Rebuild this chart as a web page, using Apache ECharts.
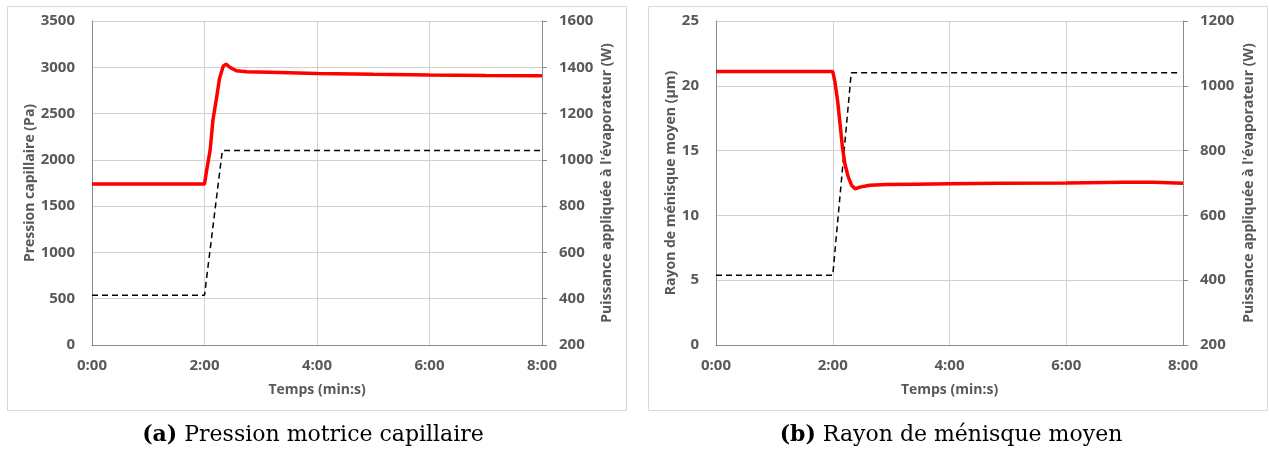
<!DOCTYPE html>
<html>
<head>
<meta charset="utf-8">
<script src="https://cdn.jsdelivr.net/npm/echarts@6/dist/echarts.min.js"></script>
<style>
html,body{margin:0;padding:0;background:#fff;}
#c{width:1269px;height:452px;}
</style>
</head>
<body>
<div id="c"></div>
<script>
// ---- data (time in seconds) ----
var timeTicks = ['0:00','2:00','4:00','6:00','8:00'];

var pressionT = [0, 120, 122, 126, 129, 133, 136, 140, 143, 147, 154, 165, 200, 240, 300, 360, 420, 480];
var pressionV = [1738, 1738, 1870, 2105, 2430, 2680, 2880, 3013, 3035, 3000, 2962, 2951, 2945, 2934, 2924, 2916, 2911, 2908];

var puissanceT = [0, 120, 139, 478];
var puissanceV = [415, 415, 1040, 1040];

var rayonT = [0, 120, 122, 125, 127.5, 130, 132.5, 136, 139.5, 143, 148, 158, 175, 206, 240, 292, 360, 420, 450, 480];
var rayonV = [21.1, 21.1, 20.4, 18.85, 17.05, 15.25, 13.97, 12.95, 12.3, 12.05, 12.18, 12.33, 12.38, 12.41, 12.44, 12.48, 12.5, 12.55, 12.55, 12.48];

function pairs(t, v){ return t.map(function(x,i){ return [x, v[i]]; }); }
function fmtTime(v){
  var m = Math.floor(v/60), s = Math.round(v - m*60);
  return m + ':' + (s < 10 ? '0' : '') + s;
}
function fmtNum(v){ return String(v); }

var txt = '#595959', axisCol = '#8a8a8a', gridCol = '#d0d0d0';
var labelFont = {color: txt, fontFamily: 'Open Sans', fontWeight: 'bold', fontSize: 15};
var nameFont = {color: txt, fontFamily: 'Open Sans', fontWeight: 'bold', fontSize: 14};

function xAxis(gi){
  return {
    type: 'value', gridIndex: gi, min: 0, max: 480, interval: 120,
    axisLine: {show: true, lineStyle: {color: axisCol, width: 1}},
    axisTick: {show: false},
    splitLine: {show: true, lineStyle: {color: gridCol, width: 1}},
    axisLabel: Object.assign({margin: 13, formatter: fmtTime}, labelFont),
    name: 'Temps (min:s)', nameLocation: 'middle', nameGap: 38,
    nameTextStyle: nameFont
  };
}
function yLeft(gi, min, max, iv, name, gap){
  return {
    type: 'value', gridIndex: gi, min: min, max: max, interval: iv, position: 'left',
    axisLine: {show: true, lineStyle: {color: axisCol, width: 1}},
    axisTick: {show: false},
    splitLine: {show: true, lineStyle: {color: gridCol, width: 1}},
    axisLabel: Object.assign({margin: 17, formatter: fmtNum}, labelFont),
    name: name, nameLocation: 'middle', nameGap: gap, nameRotate: 90,
    nameTextStyle: nameFont
  };
}
function yRight(gi, min, max, iv, name, gap){
  return {
    type: 'value', gridIndex: gi, min: min, max: max, interval: iv, position: 'right',
    axisLine: {show: true, lineStyle: {color: axisCol, width: 1}},
    axisTick: {show: true, inside: false, length: 5, lineStyle: {color: axisCol}},
    splitLine: {show: false},
    axisLabel: Object.assign({margin: 17, formatter: fmtNum}, labelFont),
    name: name, nameLocation: 'middle', nameGap: gap, nameRotate: 90,
    nameTextStyle: nameFont
  };
}

var redStyle = {color: '#ff0000', width: 3.5};
var dashStyle = {color: '#000000', width: 1.5, type: [6, 4]};

var chart = echarts.init(document.getElementById('c'), null, {renderer: 'canvas'});
chart.setOption({
  animation: false,
  backgroundColor: '#ffffff',
  grid: [
    {left: 92, top: 21, width: 450, height: 324},
    {left: 716, top: 21, width: 467, height: 324}
  ],
  xAxis: [xAxis(0), xAxis(1)],
  yAxis: [
    yLeft(0, 0, 3500, 500, 'Pression capillaire (Pa)', 55),
    yRight(0, 200, 1600, 200, "Puissance appliquée à l'évaporateur (W)", 58),
    yLeft(1, 0, 25, 5, 'Rayon de ménisque moyen (µm)', 38),
    yRight(1, 200, 1200, 200, "Puissance appliquée à l'évaporateur (W)", 59)
  ],
  series: [
    {type: 'line', xAxisIndex: 0, yAxisIndex: 1, data: pairs(puissanceT, puissanceV), symbol: 'none', lineStyle: dashStyle, z: 2},
    {type: 'line', xAxisIndex: 0, yAxisIndex: 0, data: pairs(pressionT, pressionV), symbol: 'none', lineStyle: redStyle, z: 3},
    {type: 'line', xAxisIndex: 1, yAxisIndex: 3, data: pairs(puissanceT, puissanceV), symbol: 'none', lineStyle: dashStyle, z: 2},
    {type: 'line', xAxisIndex: 1, yAxisIndex: 2, data: pairs(rayonT, rayonV), symbol: 'none', lineStyle: redStyle, z: 3}
  ],
  graphic: [
    {type: 'rect', shape: {x: 7.5, y: 6.5, width: 619, height: 404}, style: {fill: 'none', stroke: '#d9d9d9', lineWidth: 1}, silent: true},
    {type: 'rect', shape: {x: 648.5, y: 6.5, width: 619, height: 404}, style: {fill: 'none', stroke: '#d9d9d9', lineWidth: 1}, silent: true},
    {type: 'text', x: 313, y: 435, style: {
      text: '{b|(a)} Pression motrice capillaire', align: 'center', verticalAlign: 'middle',
      fontFamily: 'DejaVu Serif', fontSize: 22, fill: '#000',
      rich: {b: {fontFamily: 'DejaVu Serif', fontSize: 22, fontWeight: 'bold', fill: '#000'}}
    }},
    {type: 'text', x: 951, y: 435, style: {
      text: '{b|(b)} Rayon de ménisque moyen', align: 'center', verticalAlign: 'middle',
      fontFamily: 'DejaVu Serif', fontSize: 22, fill: '#000',
      rich: {b: {fontFamily: 'DejaVu Serif', fontSize: 22, fontWeight: 'bold', fill: '#000'}}
    }}
  ]
});
</script>
</body>
</html>
